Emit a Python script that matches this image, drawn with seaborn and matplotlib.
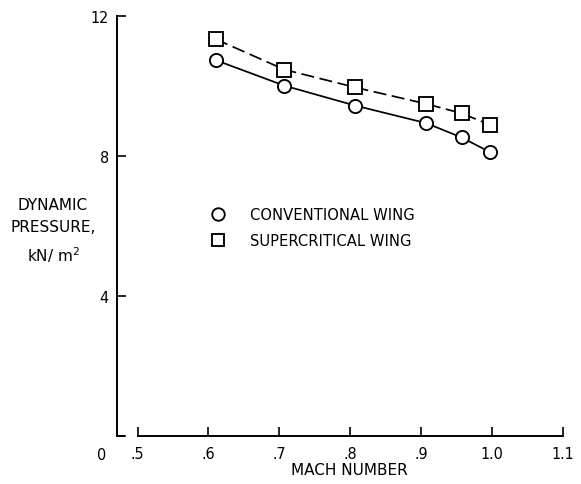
import numpy as np
import pandas as pd
import matplotlib
matplotlib.use("Agg")
import matplotlib.pyplot as plt
from matplotlib.lines import Line2D
import seaborn as sns

# Dynamic pressure versus Mach number for two wing designs
mach = [0.61, 0.707, 0.807, 0.907, 0.957, 0.997]
conventional = [10.74, 10.01, 9.44, 8.94, 8.53, 8.11]
supercritical = [11.34, 10.47, 9.96, 9.49, 9.22, 8.89]
series_names = ["CONVENTIONAL WING", "SUPERCRITICAL WING"]

x_ticks = [0.5, 0.6, 0.7, 0.8, 0.9, 1.0, 1.1]
x_tick_labels = [".5", ".6", ".7", ".8", ".9", "1.0", "1.1"]
y_ticks = [4, 8, 12]
y_tick_labels = ["4", "8", "12"]

df = pd.DataFrame({
    "mach": mach * 2,
    "q": conventional + supercritical,
    "wing": [series_names[0]] * len(mach) + [series_names[1]] * len(mach),
})

sns.set_theme(style="white")
plt.rcParams["font.family"] = ["DejaVu Sans"]

fig = plt.figure(figsize=(5.81, 4.85), dpi=100)
ax = fig.add_axes([117 / 581, 1 - 437 / 485, 446 / 581, 420 / 485])

sns.lineplot(
    data=df, x="mach", y="q", hue="wing", style="wing",
    palette=["black", "black"],
    markers={series_names[0]: "o", series_names[1]: "s"},
    dashes={series_names[0]: "", series_names[1]: (7.5, 3.2)},
    linewidth=1.25, markersize=9.5,
    markerfacecolor="white", markeredgecolor="black", markeredgewidth=1.35,
    legend=False, ax=ax,
)

ax.set_xlim(0.471, 1.1)
ax.set_ylim(0, 12)

sns.despine(ax=ax)
for side in ("left", "bottom"):
    ax.spines[side].set_color("black")
    ax.spines[side].set_linewidth(1.4)
ax.spines["bottom"].set_bounds(0.5, 1.1)
# short stub at the foot of the vertical axis (broken axis)
ax.axhline(0, xmin=0, xmax=0.018, color="black", lw=1.4, clip_on=False)

tick_font = dict(family="DejaVu Sans", stretch="condensed", size=11.5)
ax.set_xticks(x_ticks)
ax.set_xticklabels(x_tick_labels, fontdict=tick_font)
ax.set_yticks(y_ticks)
ax.set_yticklabels(y_tick_labels, fontdict=tick_font)
ax.tick_params(axis="both", direction="in", length=6.5, width=1.2,
               colors="black", left=True, bottom=True)
ax.tick_params(axis="x", pad=7.5)
ax.tick_params(axis="y", pad=6)

# shared origin label for the broken axes
ax.text(-0.034, -0.045, "0", transform=ax.transAxes, ha="center",
        va="center", fontdict=tick_font, color="black")

ax.set_xlabel("MACH NUMBER", fontsize=11, color="black", va="center")
ax.xaxis.set_label_coords(0.52, -0.08)
ax.set_ylabel("DYNAMIC\nPRESSURE,\nkN/ m$^2$", rotation=0, fontsize=11,
              color="black", ha="center", va="center", linespacing=1.6)
ax.yaxis.set_label_coords(-0.1435, 0.49)

handles = [
    Line2D([], [], marker="o", linestyle="none", markersize=9,
           markerfacecolor="white", markeredgecolor="black", markeredgewidth=1.35),
    Line2D([], [], marker="s", linestyle="none", markersize=8.5,
           markerfacecolor="white", markeredgecolor="black", markeredgewidth=1.35),
]
ax.legend(handles, series_names, loc="center left", bbox_to_anchor=(0.21, 0.496),
          frameon=False, fontsize=10.6, handlelength=1.0, handletextpad=1.67,
          labelspacing=0.72, borderpad=0, borderaxespad=0, labelcolor="black")

fig.savefig("out.png", dpi=100, facecolor="white")
